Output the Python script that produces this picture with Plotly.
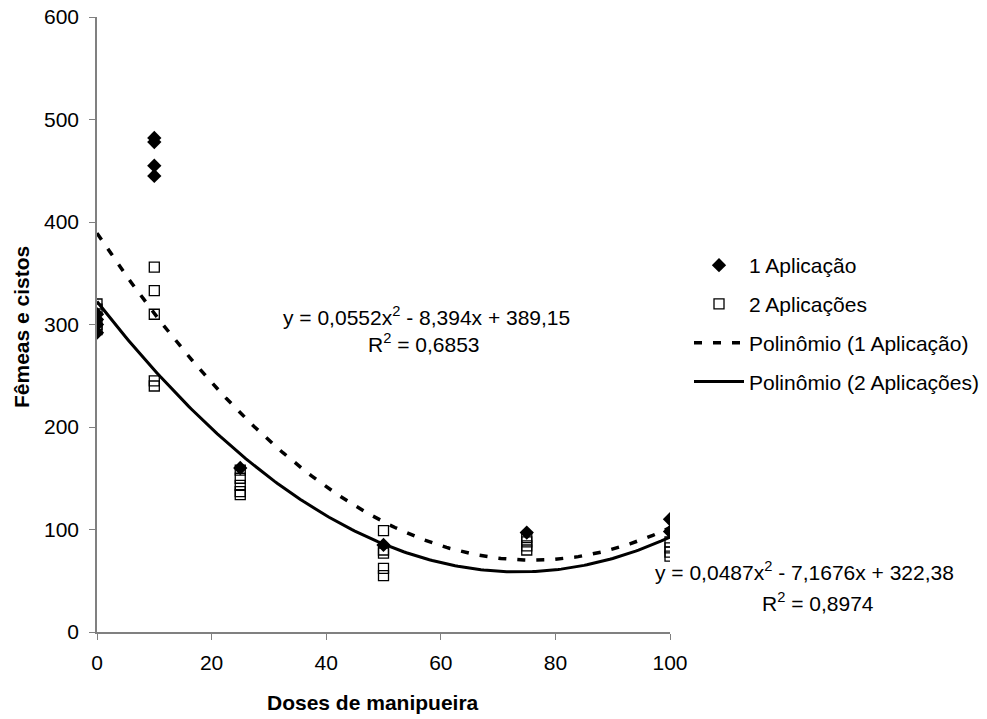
import numpy as np
import plotly.graph_objects as go

# Data
x1 = [0, 0, 0, 0, 10, 10, 10, 10, 25, 50, 75, 100, 100]
y1 = [292, 300, 305, 310, 482, 478, 455, 445, 160, 85, 97, 110, 98]
x2 = [0, 0, 0, 0, 10, 10, 10, 10, 10, 25, 25, 25, 25, 25, 50, 50, 50, 50, 50, 75, 75, 75, 75, 100, 100, 100, 100]
y2 = [295, 300, 315, 320, 356, 333, 310, 245, 240, 158, 150, 143, 137, 134, 99, 80, 77, 62, 55, 92, 88, 84, 80, 88, 82, 78, 74]

# Trendline coefficients (from the equations shown)
coef1 = [0.0552, -8.394, 389.15]
coef2 = [0.0487, -7.1676, 322.38]
xfit = np.linspace(0, 100, 201)

FS = 21
L, R, T, B = 97, 317, 17, 87
W, H = 987, 719
PW, PH = W - L - R, H - T - B

fig = go.Figure()
fig.add_trace(go.Scatter(x=x1, y=y1, mode="markers", name="1 Aplicação", legendgroup="a",
                         marker=dict(symbol="diamond", size=11, color="black")))
fig.add_trace(go.Scatter(x=x2, y=y2, mode="markers", name="2 Aplicações", legendgroup="b",
                         marker=dict(symbol="square-open", size=10, color="black",
                                     line=dict(width=1.3, color="black"))))
fig.add_trace(go.Scatter(x=xfit, y=np.polyval(coef1, xfit), mode="lines", legendgroup="c",
                         name="Polinômio (1 Aplicação)",
                         line=dict(color="black", width=3.5, dash="8px,11px")))
fig.add_trace(go.Scatter(x=xfit, y=np.polyval(coef2, xfit), mode="lines", legendgroup="d",
                         name="Polinômio (2 Aplicações)",
                         line=dict(color="black", width=3)))

font = "Liberation Sans, Arial, sans-serif"


def ann(text, px, py, angle=0):
    return dict(text=text, showarrow=False, font=dict(size=FS), textangle=angle,
                xref="paper", yref="paper",
                x=(px - L) / PW, y=(H - B - py) / PH,
                xanchor="center", yanchor="middle")


fig.update_layout(
    width=W, height=H,
    margin=dict(l=L, r=R, t=T, b=B, autoexpand=False),
    plot_bgcolor="white", paper_bgcolor="white",
    font=dict(family=font, size=FS, color="black"),
    showlegend=True,
    legend=dict(xref="container", yref="container", x=689 / W, y=1 - 245 / H,
                xanchor="left", yanchor="top",
                font=dict(size=FS), itemwidth=50, tracegroupgap=8.5, traceorder="grouped",
                bgcolor="rgba(0,0,0,0)"),
    xaxis=dict(range=[0, 100], tickvals=[0, 20, 40, 60, 80, 100], automargin=False,
               showgrid=False, zeroline=False, showline=True, linecolor="#808080",
               linewidth=1.5, ticks="outside", ticklen=6, tickcolor="#808080",
               ticklabelstandoff=5),
    yaxis=dict(range=[0, 600], tickvals=[0, 100, 200, 300, 400, 500, 600], automargin=False,
               showgrid=False, zeroline=False, showline=True, linecolor="#808080",
               linewidth=1.5, ticks="outside", ticklen=6, tickcolor="#808080",
               ticklabelstandoff=6),
    annotations=[
        ann("y = 0,0552x<sup>2</sup> - 8,394x + 389,15", 426, 316),
        ann("R<sup>2</sup> = 0,6853", 424, 343),
        ann("y = 0,0487x<sup>2</sup> - 7,1676x + 322,38", 804, 571),
        ann("R<sup>2</sup> = 0,8974", 818, 602),
        ann("<b>Doses de manipueira</b>", 373, 702),
        ann("<b>Fêmeas e cistos</b>", 21, 327, angle=-90),
    ],
)
fig.write_html("out.html")
